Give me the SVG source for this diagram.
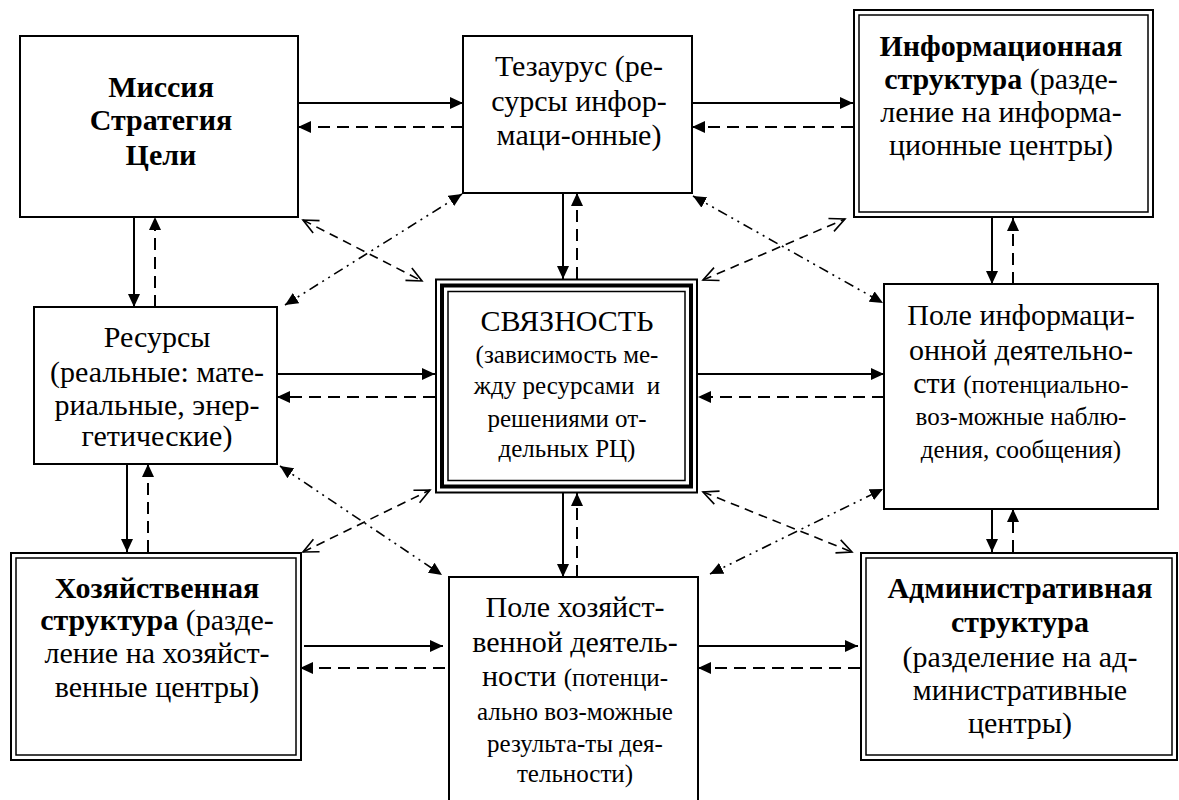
<svg xmlns="http://www.w3.org/2000/svg" width="1179" height="800" viewBox="0 0 1179 800" font-family="Liberation Serif">
<style>
.box{fill:#fff;stroke:#000;stroke-width:2}
.thin{fill:none;stroke:#000;stroke-width:1.5}
.thick{fill:none;stroke:#000;stroke-width:4}
.t{font-family:'Liberation Serif','Times New Roman',serif !important;font-size:30px;fill:#000;text-anchor:middle}
.b{font-weight:bold}
.s{font-size:25px}
.c line{stroke:#000;stroke-width:2;fill:none}
.c .sol{marker-end:url(#fa)}
.c .dsh{stroke-dasharray:12 7;marker-end:url(#fa)}
.c .dia{stroke-width:1.6;stroke-dasharray:9 6;marker-start:url(#oa);marker-end:url(#oa)}
.c .dd{stroke-width:1.6;stroke-dasharray:10 5 2 5 2 5;marker-start:url(#fa);marker-end:url(#fa)}
</style>
<defs>
<marker id="fa" markerUnits="userSpaceOnUse" markerWidth="14" markerHeight="12" refX="13" refY="6" orient="auto-start-reverse">
<path d="M0,0 L13,6 L0,12 z" fill="#000"/>
</marker>
<marker id="oa" markerUnits="userSpaceOnUse" markerWidth="18" markerHeight="16" refX="16" refY="8" orient="auto-start-reverse">
<path d="M1,1 L16,8 L1,15" fill="none" stroke="#000" stroke-width="1.6"/>
</marker>
</defs>

<g id="connectors" class="c">
<line class="sol" x1="298" y1="103" x2="463" y2="103"/>
<line class="sol" x1="692" y1="103" x2="853" y2="103"/>
<line class="sol" x1="277" y1="374" x2="435" y2="374"/>
<line class="sol" x1="698" y1="374" x2="884" y2="374"/>
<line class="sol" x1="304" y1="646" x2="443" y2="646"/>
<line class="sol" x1="698" y1="646" x2="858" y2="646"/>
<line class="dsh" x1="463" y1="127" x2="298" y2="127"/>
<line class="dsh" x1="853" y1="127" x2="692" y2="127"/>
<line class="dsh" x1="435" y1="397" x2="277" y2="397"/>
<line class="dsh" x1="884" y1="397" x2="698" y2="397"/>
<line class="dsh" x1="445" y1="668" x2="300" y2="668"/>
<line class="dsh" x1="860" y1="668" x2="698" y2="668"/>
<line class="sol" x1="134" y1="217" x2="134" y2="307"/>
<line class="sol" x1="563" y1="193" x2="563" y2="279"/>
<line class="sol" x1="992" y1="218" x2="992" y2="284"/>
<line class="sol" x1="127" y1="464" x2="127" y2="552"/>
<line class="sol" x1="563" y1="493" x2="563" y2="577"/>
<line class="sol" x1="992" y1="509" x2="992" y2="552"/>
<line class="dsh" x1="155" y1="307" x2="155" y2="217"/>
<line class="dsh" x1="577" y1="279" x2="577" y2="193"/>
<line class="dsh" x1="1013" y1="284" x2="1013" y2="218"/>
<line class="dsh" x1="148" y1="552" x2="148" y2="464"/>
<line class="dsh" x1="577" y1="577" x2="577" y2="493"/>
<line class="dsh" x1="1013" y1="552" x2="1013" y2="509"/>
<line class="dia" x1="303" y1="220" x2="422" y2="281"/>
<line class="dia" x1="703" y1="280" x2="845" y2="219"/>
<line class="dia" x1="303" y1="552" x2="430" y2="490"/>
<line class="dia" x1="703" y1="492" x2="852" y2="552"/>
<line class="dd" x1="285" y1="305" x2="462" y2="194"/>
<line class="dd" x1="693" y1="196" x2="883" y2="303"/>
<line class="dd" x1="280" y1="466" x2="442" y2="575"/>
<line class="dd" x1="710" y1="574" x2="883" y2="489"/>
</g>

<g id="mission">
<rect class="box" x="20" y="36" width="278" height="181"/>
<text class="t b" style="font-family:'Liberation Serif',serif" x="161" y="97">Миссия</text>
<text class="t b" style="font-family:'Liberation Serif',serif" x="161" y="130">Стратегия</text>
<text class="t b" style="font-family:'Liberation Serif',serif" x="161" y="165">Цели</text>
</g>

<g id="thesaurus">
<rect class="box" x="463" y="36" width="229" height="157"/>
<text class="t" style="font-family:'Liberation Serif',serif" x="579" y="76">Тезаурус (ре-</text>
<text class="t" style="font-family:'Liberation Serif',serif" x="579" y="111">сурсы инфор-</text>
<text class="t" style="font-family:'Liberation Serif',serif" x="579" y="145">маци-онные)</text>
</g>

<g id="info-structure">
<rect class="box" x="854" y="10" width="299" height="207" stroke-width="2.5"/>
<rect class="thin" x="859" y="15" width="289" height="197"/>
<text class="t b" style="font-family:'Liberation Serif',serif" x="1001" y="56">Информационная</text>
<text class="t" style="font-family:'Liberation Serif',serif" x="1001" y="89"><tspan font-weight="bold">структура</tspan> (разде-</text>
<text class="t" style="font-family:'Liberation Serif',serif" x="1001" y="122">ление на информа-</text>
<text class="t" style="font-family:'Liberation Serif',serif" x="1001" y="155">ционные центры)</text>
</g>

<g id="resources">
<rect class="box" x="34" y="307" width="243" height="157"/>
<text class="t" style="font-family:'Liberation Serif',serif" x="157" y="347">Ресурсы</text>
<text class="t" style="font-family:'Liberation Serif',serif" x="157" y="382">(реальные: мате-</text>
<text class="t" style="font-family:'Liberation Serif',serif" x="157" y="415">риальные, энер-</text>
<text class="t" style="font-family:'Liberation Serif',serif" x="157" y="446">гетические)</text>
</g>

<g id="connectivity">
<rect class="box" x="436" y="279.5" width="261" height="213"/>
<rect class="thick" x="442" y="285.5" width="249" height="201"/>
<rect class="thin" x="448" y="291.5" width="237" height="189" stroke-width="2"/>
<text class="t" style="font-family:'Liberation Serif',serif" x="567" y="331">СВЯЗНОСТЬ</text>
<text class="t s" style="font-family:'Liberation Serif',serif" x="567" y="363">(зависимость ме-</text>
<text class="t s" style="font-family:'Liberation Serif',serif" x="567" y="394" xml:space="preserve">жду ресурсами  и</text>
<text class="t s" style="font-family:'Liberation Serif',serif" x="567" y="427">решениями от-</text>
<text class="t s" style="font-family:'Liberation Serif',serif" x="567" y="457">дельных РЦ)</text>
</g>

<g id="info-field">
<rect class="box" x="884" y="284" width="274" height="225"/>
<text class="t" style="font-family:'Liberation Serif',serif" x="1021" y="325">Поле информаци-</text>
<text class="t" style="font-family:'Liberation Serif',serif" x="1021" y="360">онной деятельно-</text>
<text class="t" style="font-family:'Liberation Serif',serif" x="1021" y="393">сти <tspan font-size="25">(потенциально-</tspan></text>
<text class="t s" style="font-family:'Liberation Serif',serif" x="1021" y="425">воз-можные наблю-</text>
<text class="t s" style="font-family:'Liberation Serif',serif" x="1021" y="458">дения, сообщения)</text>
</g>

<g id="econ-structure">
<rect class="box" x="11" y="553" width="290" height="207" stroke-width="2.5"/>
<rect class="thin" x="16" y="558" width="280" height="197"/>
<text class="t b" style="font-family:'Liberation Serif',serif" x="157" y="598">Хозяйственная</text>
<text class="t" style="font-family:'Liberation Serif',serif" x="157" y="630"><tspan font-weight="bold">структура</tspan> (разде-</text>
<text class="t" style="font-family:'Liberation Serif',serif" x="157" y="663">ление на хозяйст-</text>
<text class="t" style="font-family:'Liberation Serif',serif" x="157" y="697">венные центры)</text>
</g>

<g id="econ-field">
<rect class="box" x="449" y="577" width="249" height="260"/>
<text class="t" style="font-family:'Liberation Serif',serif" x="575" y="617">Поле хозяйст-</text>
<text class="t" style="font-family:'Liberation Serif',serif" x="575" y="652">венной деятель-</text>
<text class="t" style="font-family:'Liberation Serif',serif" x="575" y="686">ности <tspan font-size="25">(потенци-</tspan></text>
<text class="t s" style="font-family:'Liberation Serif',serif" x="575" y="720">ально воз-можные</text>
<text class="t s" style="font-family:'Liberation Serif',serif" x="575" y="752">результа-ты дея-</text>
<text class="t s" style="font-family:'Liberation Serif',serif" x="575" y="782">тельности)</text>
</g>

<g id="admin-structure">
<rect class="box" x="861" y="553" width="316" height="207" stroke-width="2.5"/>
<rect class="thin" x="866" y="558" width="306" height="197"/>
<text class="t b" style="font-family:'Liberation Serif',serif" x="1020" y="598">Административная</text>
<text class="t b" style="font-family:'Liberation Serif',serif" x="1020" y="632">структура</text>
<text class="t" style="font-family:'Liberation Serif',serif" x="1020" y="667">(разделение на ад-</text>
<text class="t" style="font-family:'Liberation Serif',serif" x="1020" y="700">министративные</text>
<text class="t" style="font-family:'Liberation Serif',serif" x="1020" y="733">центры)</text>
</g>
</svg>
